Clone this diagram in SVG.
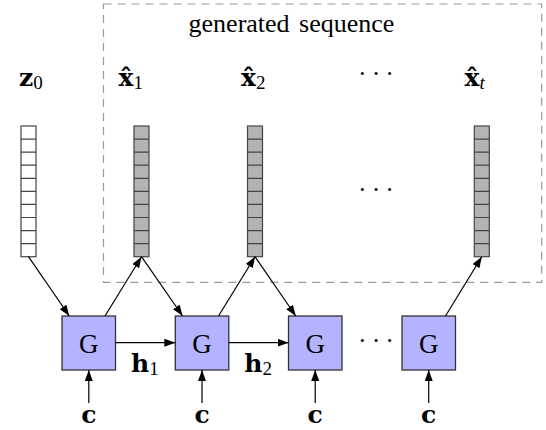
<svg xmlns="http://www.w3.org/2000/svg" width="546" height="430" viewBox="0 0 546 430">
<style>
  .txt { font-family: "Liberation Serif", "Times New Roman", serif; font-size: 26px; fill: #000; }
  .mb { font-family: "DejaVu Serif", "Liberation Serif", serif; font-weight: bold; font-size: 25px; }
  .sub { font-family: "Liberation Serif", serif; font-size: 19px; font-weight: normal; }
  .subi { font-family: "Liberation Serif", serif; font-size: 19px; font-style: italic; }
  .gbox { fill: #b3b3ff; stroke: #333; stroke-width: 1.3; }
  .gl { font-family: "Liberation Serif", serif; font-size: 27px; text-anchor: middle; }
  .conn { stroke: #000; stroke-width: 1.2; fill: none; }
  .frame { fill: none; stroke: #999; stroke-width: 1.2; stroke-dasharray: 8 6; }
  .cellw { fill: #fff; stroke: #444; stroke-width: 1.2; }
  .cellg { fill: #b3b3b3; stroke: #444; stroke-width: 1.2; }
  .dots { font-family: "Liberation Serif", serif; font-size: 26px; letter-spacing: 5px; }
</style>
<defs>
  <marker id="arr" markerUnits="userSpaceOnUse" markerWidth="12" markerHeight="10" refX="11" refY="4" orient="auto">
    <path d="M0,0 L11,4 L0,8 z" fill="#000"/>
  </marker>
  <path id="cells" d="M0,13.07 h15 M0,26.14 h15 M0,39.21 h15 M0,52.28 h15 M0,65.35 h15 M0,78.42 h15 M0,91.49 h15 M0,104.56 h15 M0,117.63 h15" stroke="#444" stroke-width="1.2" fill="none"/>
</defs>

<g id="frame">
  <rect class="frame" x="103.5" y="4" width="438.2" height="278.3"/>
  <text class="txt" x="291.5" y="32" text-anchor="middle" word-spacing="3">generated sequence</text>
</g>

<g id="z0">
  <text class="txt" x="19" y="86"><tspan class="mb">z</tspan><tspan class="sub" dy="3">0</tspan></text>
  <rect class="cellw" x="21" y="126" width="15" height="130.7"/>
  <use href="#cells" x="21" y="126"/>
</g>

<g id="x1">
  <text class="txt" x="118.5" y="86"><tspan class="mb">x̂</tspan><tspan class="sub" dy="3">1</tspan></text>
  <rect class="cellg" x="134" y="126" width="15" height="130.7"/>
  <use href="#cells" x="134" y="126"/>
</g>

<g id="x2">
  <text class="txt" x="241" y="86"><tspan class="mb">x̂</tspan><tspan class="sub" dy="3">2</tspan></text>
  <rect class="cellg" x="247.5" y="126" width="15" height="130.7"/>
  <use href="#cells" x="247.5" y="126"/>
</g>

<g id="xdots">
  <text class="dots" x="358" y="82">···</text>
  <text class="dots" x="358" y="198">···</text>
</g>

<g id="xt">
  <text class="txt" x="464.5" y="86"><tspan class="mb">x̂</tspan><tspan class="subi" dy="3">t</tspan></text>
  <rect class="cellg" x="474.3" y="126" width="15" height="130.7"/>
  <use href="#cells" x="474.3" y="126"/>
</g>

<g id="G1">
  <rect class="gbox" x="62" y="316" width="53.5" height="54"/>
  <text class="gl" x="88.8" y="353">G</text>
</g>
<g id="G2">
  <rect class="gbox" x="175.3" y="316" width="53.5" height="54"/>
  <text class="gl" x="202" y="353">G</text>
</g>
<g id="G3">
  <rect class="gbox" x="288.5" y="316" width="53.5" height="54"/>
  <text class="gl" x="315.2" y="353">G</text>
</g>
<g id="G4">
  <rect class="gbox" x="402" y="316" width="53.5" height="54"/>
  <text class="gl" x="428.7" y="353">G</text>
</g>

<g id="c-labels">
  <text class="txt mb" x="88.8" y="423" text-anchor="middle">c</text>
  <text class="txt mb" x="202" y="423" text-anchor="middle">c</text>
  <text class="txt mb" x="315.2" y="423" text-anchor="middle">c</text>
  <text class="txt mb" x="428.7" y="423" text-anchor="middle">c</text>
</g>

<g id="h-labels">
  <text class="txt" x="131" y="371.5"><tspan class="mb">h</tspan><tspan class="sub" dy="3">1</tspan></text>
  <text class="txt" x="244.3" y="371.5"><tspan class="mb">h</tspan><tspan class="sub" dy="3">2</tspan></text>
  <text class="dots" x="358" y="349">···</text>
</g>

<g id="connectors">
  <line class="conn" x1="28.5" y1="256.7" x2="69.3" y2="316" marker-end="url(#arr)"/>
  <line class="conn" x1="105" y1="316" x2="141.5" y2="256.7" marker-end="url(#arr)"/>
  <line class="conn" x1="141.5" y1="256.7" x2="182.6" y2="316" marker-end="url(#arr)"/>
  <line class="conn" x1="218.5" y1="316" x2="255" y2="256.7" marker-end="url(#arr)"/>
  <line class="conn" x1="255" y1="256.7" x2="295.8" y2="316" marker-end="url(#arr)"/>
  <line class="conn" x1="445.5" y1="316" x2="481.8" y2="256.7" marker-end="url(#arr)"/>
  <line class="conn" x1="115.5" y1="342.7" x2="175.3" y2="342.7" marker-end="url(#arr)"/>
  <line class="conn" x1="228.8" y1="342.7" x2="288.5" y2="342.7" marker-end="url(#arr)"/>
  <line class="conn" x1="88.8" y1="403" x2="88.8" y2="370" marker-end="url(#arr)"/>
  <line class="conn" x1="202" y1="403" x2="202" y2="370" marker-end="url(#arr)"/>
  <line class="conn" x1="315.2" y1="403" x2="315.2" y2="370" marker-end="url(#arr)"/>
  <line class="conn" x1="428.7" y1="403" x2="428.7" y2="370" marker-end="url(#arr)"/>
</g>
</svg>
